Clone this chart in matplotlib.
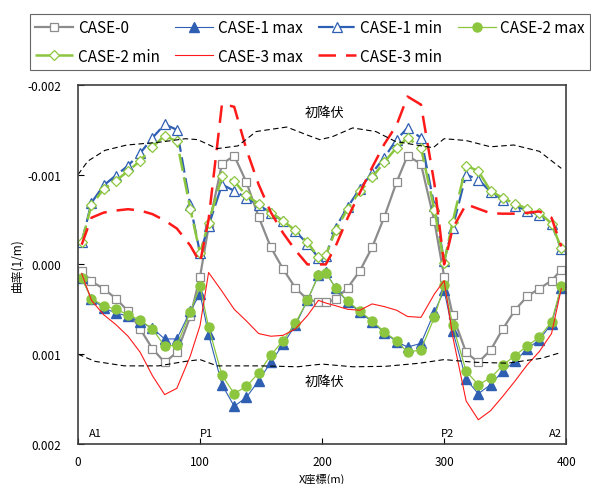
import numpy as np
import matplotlib
matplotlib.use("Agg")
import matplotlib.pyplot as plt

plt.rcParams['font.family'] = ['Noto Sans CJK JP', 'DejaVu Sans']
plt.rcParams['axes.unicode_minus'] = False

# Measurement points along the bridge (m)
x = [3, 11, 21, 31, 41, 51, 61, 71, 81, 92, 100,
     107, 118, 128, 138, 148, 158, 168, 178, 188, 197, 203, 211, 221, 231, 241, 251, 261, 270, 281, 292, 300,
     307, 318, 328, 338, 348, 358, 368, 378, 388, 396]

# Curvature values (x 1e-3 1/m)
case0 = [0.07, 0.19, 0.27, 0.38, 0.52, 0.72, 0.94, 1.09, 0.98, 0.58, 0.135,
         -0.42, -1.12, -1.21, -0.915, -0.53, -0.19, 0.05, 0.26, 0.39, 0.42, 0.42, 0.39, 0.26, 0.07, -0.19,
         -0.53, -0.915, -1.21, -1.12, -0.48, 0.135,
         0.566, 0.98, 1.09, 0.956, 0.72, 0.51, 0.356, 0.27, 0.18, 0.06]
case1_max = [0.15, 0.38, 0.485, 0.54, 0.577, 0.64, 0.71, 0.83, 0.83, 0.52, 0.326,
             0.78, 1.34, 1.58, 1.48, 1.295, 1.09, 0.89, 0.68, 0.40, 0.12, 0.09, 0.26, 0.42, 0.53, 0.64,
             0.76, 0.86, 0.92, 0.88, 0.53, 0.29,
             0.74, 1.28, 1.44, 1.34, 1.19, 1.08, 0.94, 0.84, 0.66, 0.26]
case1_min = [-0.245, -0.687, -0.88, -0.99, -1.10, -1.24, -1.41, -1.56, -1.50, -0.66, -0.124,
             -0.43, -0.89, -0.82, -0.74, -0.66, -0.577, -0.484, -0.37, -0.23, -0.075, -0.09, -0.41, -0.64,
             -0.845, -1.02, -1.19, -1.39, -1.52, -1.41, -0.65, -0.04,
             -0.41, -1.0, -0.945, -0.81, -0.72, -0.65, -0.60, -0.55, -0.45, -0.17]
case2_max = [0.15, 0.38, 0.46, 0.50, 0.56, 0.62, 0.72, 0.91, 0.90, 0.53, 0.24,
             0.70, 1.235, 1.44, 1.357, 1.21, 1.01, 0.85, 0.657, 0.40, 0.12, 0.094, 0.26, 0.41, 0.52, 0.63,
             0.75, 0.85, 0.98, 0.95, 0.59, 0.234,
             0.67, 1.19, 1.34, 1.265, 1.125, 1.015, 0.91, 0.81, 0.64, 0.24]
case2_min = [-0.245, -0.66, -0.84, -0.93, -1.04, -1.155, -1.31, -1.434, -1.37, -0.62, -0.124,
             -0.466, -0.98, -0.926, -0.768, -0.676, -0.577, -0.484, -0.38, -0.245, -0.08, -0.10, -0.38,
             -0.62, -0.815, -0.97, -1.14, -1.30, -1.41, -1.30, -0.61, -0.02,
             -0.477, -1.10, -1.04, -0.82, -0.74, -0.676, -0.62, -0.577, -0.455, -0.18]
case3_max = [0.10, 0.40, 0.56, 0.67, 0.80, 0.98, 1.24, 1.45, 1.38, 1.02, 0.68,
             0.09, 0.30, 0.50, 0.63, 0.77, 0.80, 0.79, 0.72, 0.57, 0.40, 0.43, 0.46, 0.50, 0.51, 0.44,
             0.47, 0.51, 0.58, 0.59, 0.33, 0.18,
             0.80, 1.52, 1.73, 1.63, 1.47, 1.30, 1.12, 0.97, 0.77, 0.27]
case3_min = [-0.22, -0.52, -0.577, -0.60, -0.615, -0.60, -0.56, -0.49, -0.40, -0.21, -0.02,
             -0.50, -1.79, -1.755, -1.28, -0.89, -0.58, -0.35, -0.16, 0.0, 0.0, 0.0, -0.20, -0.52, -0.80,
             -1.08, -1.34, -1.55, -1.87, -1.78, -0.90, 0.0,
             -0.40, -0.67, -0.62, -0.57, -0.565, -0.565, -0.575, -0.59, -0.52, -0.20]

# First yield curvature (x 1e-3 1/m)
yield_x_up = [0, 8, 22, 40, 66, 88, 98, 114, 131, 146, 171, 188, 198, 208, 225, 244, 260, 277, 291,
              300, 318, 338, 357, 378, 396]
yield_up = [-1.0, -1.15, -1.27, -1.33, -1.36, -1.40, -1.39, -1.29, -1.32, -1.48, -1.53, -1.44, -1.39,
            -1.42, -1.52, -1.48, -1.37, -1.33, -1.30, -1.40, -1.38, -1.31, -1.33, -1.26, -1.07]
yield_x_lo = [0, 14, 38, 66, 88, 100, 114, 150, 180, 200, 225, 252, 280, 300, 325, 352, 380, 396]
yield_lo = [1.0, 1.08, 1.13, 1.13, 1.08, 1.06, 1.13, 1.13, 1.14, 1.11, 1.14, 1.135, 1.10, 1.06, 1.09,
            1.10, 1.045, 0.98]

supports = ['A1', 'P1', 'P2', 'A2']
support_x = [14, 105, 303, 391]

s = 1e-3
blue = '#2F5FB3'
green = '#8CC63F'
gray = '#8C8C8C'
red = '#FF1A1A'

fig = plt.figure(figsize=(5.91, 4.85), dpi=100)
ax = fig.add_axes([0.132, 0.0825, 0.826, 0.7405])

h0, = ax.plot(x, np.array(case0) * s, color=gray, lw=1.6, marker='s', ms=5.5,
              mfc='white', mec=gray, mew=0.9, label='CASE-0')
h1, = ax.plot(x, np.array(case1_max) * s, color=blue, lw=0.8, marker='^', ms=6.5,
              mfc=blue, mec=blue, label='CASE-1 max')
h2, = ax.plot(x, np.array(case1_min) * s, color=blue, lw=1.6, dashes=(7, 2.5), marker='^', ms=6.5,
              mfc='white', mec=blue, mew=0.9, label='CASE-1 min')
h3, = ax.plot(x, np.array(case2_max) * s, color=green, lw=0.9, marker='o', ms=6.5,
              mfc=green, mec=green, label='CASE-2 max')
h4, = ax.plot(x, np.array(case2_min) * s, color=green, lw=1.8, dashes=(7, 2.5), marker='D', ms=5,
              mfc='white', mec=green, mew=0.9, label='CASE-2 min')
h5, = ax.plot(x, np.array(case3_max) * s, color=red, lw=0.8, label='CASE-3 max')
h6, = ax.plot(x, np.array(case3_min) * s, color=red, lw=1.8, dashes=(7, 4), label='CASE-3 min')

ax.plot(yield_x_up, np.array(yield_up) * s, color='black', lw=0.8, dashes=(5, 3))
ax.plot(yield_x_lo, np.array(yield_lo) * s, color='black', lw=0.8, dashes=(5, 3))
ax.text(202, -1.69e-3, '初降伏', ha='center', va='center', fontsize=9.5)
ax.text(202, 1.30e-3, '初降伏', ha='center', va='center', fontsize=9.5)

for name, sx in zip(supports, support_x):
    ax.text(sx, 1.88e-3, name, ha='center', va='center', fontsize=8)

ax.set_xlim(0, 400)
ax.set_ylim(0.002, -0.002)
ax.set_xticks([0, 100, 200, 300, 400])
ax.set_yticks([-0.002, -0.001, 0.0, 0.001, 0.002])
ax.set_yticklabels(['%.3f' % v for v in [-0.002, -0.001, 0.0, 0.001, 0.002]])
ax.tick_params(direction='in', labelsize=8.5, length=4, width=0.8)
ax.tick_params(axis='x', pad=8)
ax.tick_params(axis='y', pad=12)
for sp in ax.spines.values():
    sp.set_linewidth(1.2)
    sp.set_color('#404040')

fig.text(322 / 591, 1 - 479 / 485, 'X座標(m)', ha='center', va='center', fontsize=8)
ax.set_ylabel('曲率(1/m)', fontsize=8.5, labelpad=3)

handles = [h0, h4, h1, h5, h2, h6, h3]
leg = fig.legend(handles=handles, labels=[h.get_label() for h in handles], ncol=4,
                 loc='upper left', bbox_to_anchor=(0.037, 0.985), fontsize=11,
                 frameon=True, fancybox=False, edgecolor='#404040', handlelength=2.5,
                 handletextpad=0.3, columnspacing=1.0, labelspacing=0.75, borderpad=0.35)
leg.get_frame().set_linewidth(0.8)

fig.savefig('out.png', dpi=100)
